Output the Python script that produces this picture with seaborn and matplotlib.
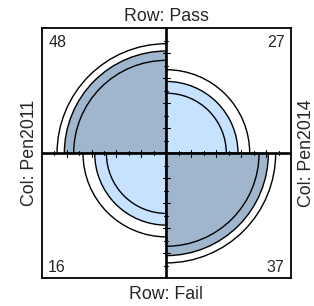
import numpy as np
import matplotlib
matplotlib.use("Agg")
import matplotlib.pyplot as plt
from matplotlib.patches import Wedge, Arc
from statistics import NormalDist
import seaborn as sns

sns.set_theme(style="white")
plt.rcParams['font.family'] = ['Liberation Sans', 'DejaVu Sans']

# 2x2 table: rows = Pass / Fail, columns = Pen2011 / Pen2014
rows = ["Pass", "Fail"]
cols = ["Pen2011", "Pen2014"]
counts = np.array([[48, 27],
                   [16, 37]])
conf_level = 0.99
colors = ["#C6E2FF", "#9FB6CD"]   # light for cells against the association, dark for with


# odds ratio + confidence interval (log scale)
odds = counts[0, 0] * counts[1, 1] / (counts[0, 1] * counts[1, 0])
se = np.sqrt((1.0 / counts).sum())
z = NormalDist().inv_cdf((1 + conf_level) / 2)
or_lo, or_hi = odds * np.exp(-z * se), odds * np.exp(z * se)


def std_table(theta):
    # table with all margins equal and the given odds ratio
    s = np.sqrt(theta)
    p = 0.5 * s / (1 + s)
    return np.array([[p, 0.5 - p], [0.5 - p, p]])


fit = std_table(odds)
ring_lo = std_table(or_lo)
ring_hi = std_table(or_hi)

# quadrant angles for each cell
angles = {(0, 0): (90, 180), (0, 1): (0, 90), (1, 0): (180, 270), (1, 1): (270, 360)}

fig = plt.figure(figsize=(3.14, 3.06), dpi=100)
ax = fig.add_axes([0.1328, 0.0905, 0.794, 0.817])
ax.set_xlim(-1, 1)
ax.set_ylim(-1, 1)
ax.set_xticks([])
ax.set_yticks([])
for sp in ax.spines.values():
    sp.set_color("black")
    sp.set_linewidth(1.3)

for (i, j), (t1, t2) in angles.items():
    col = colors[1] if i == j else colors[0]
    r = np.sqrt(2 * fit[i, j])
    ax.add_patch(Wedge((0, 0), r, t1, t2, facecolor=col, edgecolor="black", lw=1.0, zorder=2))
    for ring in (ring_lo, ring_hi):
        rr = np.sqrt(2 * ring[i, j])
        ax.add_patch(Arc((0, 0), 2 * rr, 2 * rr, theta1=t1, theta2=t2,
                         color="black", lw=1.0, zorder=3))

# cross axes with ticks
ax.plot([-1, 1], [0, 0], color="black", lw=1.9, zorder=4)
ax.plot([0, 0], [-1, 1], color="black", lw=1.9, zorder=4)
for k in range(1, 10):
    h = 0.03 if k % 2 == 0 else 0.016
    for s in (-1, 1):
        ax.plot([s * k / 10, s * k / 10], [-h, h], color="black", lw=0.8, zorder=4)
        ax.plot([-h, h], [s * k / 10, s * k / 10], color="black", lw=0.8, zorder=4)

# cell counts in the corners
fs_n = 11.5
ax.text(0.026, 0.926, str(counts[0, 0]), transform=ax.transAxes, ha="left", va="baseline", fontsize=fs_n)
ax.text(0.974, 0.926, str(counts[0, 1]), transform=ax.transAxes, ha="right", va="baseline", fontsize=fs_n)
ax.text(0.026, 0.027, str(counts[1, 0]), transform=ax.transAxes, ha="left", va="baseline", fontsize=fs_n)
ax.text(0.974, 0.027, str(counts[1, 1]), transform=ax.transAxes, ha="right", va="baseline", fontsize=fs_n)

# margin labels
fs = 12.8
cx = 0.5297
cy = 1 - 153.3 / 306
fig.text(cx, 0.9324, "Row: " + rows[0], ha="center", va="baseline", fontsize=fs)
fig.text(cx, 0.0219, "Row: " + rows[1], ha="center", va="baseline", fontsize=fs)
fig.text(34.4 / 314, cy, "Col: " + cols[0], rotation=90, rotation_mode="anchor",
         ha="center", va="baseline", fontsize=fs)
fig.text(311.3 / 314, cy, "Col: " + cols[1], rotation=90, rotation_mode="anchor",
         ha="center", va="baseline", fontsize=fs)

fig.savefig("out.png", dpi=100)
